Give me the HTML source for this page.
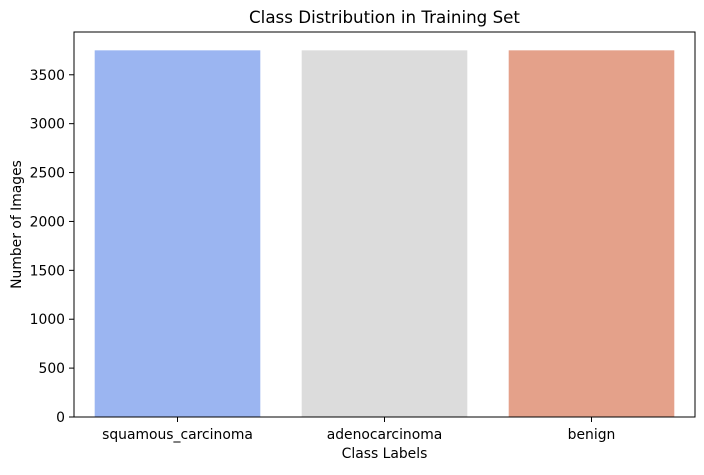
<!DOCTYPE html>
<html><head><meta charset="utf-8"><style>
body{margin:0;background:#fff;font-family:"Liberation Sans","DejaVu Sans",sans-serif}
svg text{font-family:"DejaVu Sans","Liberation Sans",sans-serif;fill:#000}
</style></head><body>
<svg id="chart" width="704" height="470">
<text x="384.5" y="23" font-size="16.7" text-anchor="middle">Class Distribution in Training Set</text>
<g id="bars"></g><g id="yticks"></g><g id="xticks"></g>
<rect x="74" y="32" width="621" height="385" fill="none" stroke="#000" stroke-width="1"/>
<text x="384.5" y="458" font-size="13.9" text-anchor="middle">Class Labels</text>
<text transform="translate(21,224.5) rotate(-90)" font-size="13.9" text-anchor="middle">Number of Images</text>
</svg>
<script>
const categories=["squamous_carcinoma","adenocarcinoma","benign"];
const values=[3750,3750,3750];
const colors=["#9bb5f1","#dcdcdc","#e4a18a"];
const yTicks=[0,500,1000,1500,2000,2500,3000,3500];
const yMax=3937.5;
const L=74,R=695,T=32,B=417;
const ns="http://www.w3.org/2000/svg";
const y=v=>B-(v/yMax)*(B-T);
const band=(R-L)/categories.length;
const xc=i=>L+band*(i+0.5);
const mk=(t,a,p)=>{const e=document.createElementNS(ns,t);for(const k in a)e.setAttribute(k,a[k]);p.appendChild(e);return e;};
const gb=document.getElementById('bars'),gy=document.getElementById('yticks'),gx=document.getElementById('xticks');
categories.forEach((c,i)=>{
 const w=band*0.8;
 const r=mk('rect',{x:xc(i)-w/2,y:y(values[i]),width:w,height:B-y(values[i]),fill:colors[i]},gb);
 
 
 const tk=mk('line',{x1:xc(i),x2:xc(i),y1:B,y2:B+5,stroke:'#000'},gx);
 
 
 const t=mk('text',{x:xc(i),y:B+22,'font-size':13.9,'text-anchor':'middle'},gx);
 t.textContent=c;
 
 
});
yTicks.forEach(v=>{
 const tk=mk('line',{x1:L-5,x2:L,y1:y(v),y2:y(v),stroke:'#000'},gy);
 
 
 const t=mk('text',{x:L-9,y:y(v)+5,'font-size':13.9,'text-anchor':'end'},gy);
 t.textContent=v;
 
 
});
</script>
</body></html>
